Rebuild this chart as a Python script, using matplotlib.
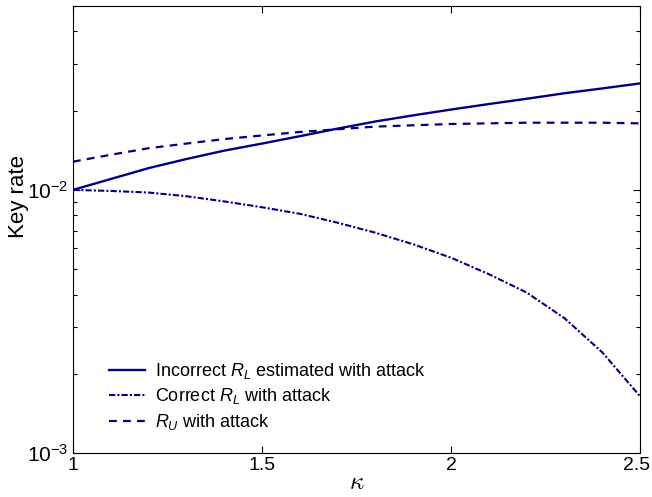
import numpy as np
import matplotlib
matplotlib.use('Agg')
import matplotlib.pyplot as plt
import matplotlib.transforms as mtransforms
from matplotlib.ticker import LogLocator, NullFormatter

plt.rcParams['font.family'] = ['Liberation Sans', 'DejaVu Sans']
plt.rcParams['mathtext.fontset'] = 'custom'
plt.rcParams['mathtext.rm'] = 'Liberation Sans'
plt.rcParams['mathtext.it'] = 'Liberation Sans:italic'

### kappa values
kappa = [1.0, 1.1, 1.2, 1.3, 1.4, 1.5, 1.6, 1.7, 1.8, 1.9,
         2.0, 2.1, 2.2, 2.3, 2.4, 2.5]
### incorrect R_L estimated with attack
rl_incorrect = [0.0100, 0.0110, 0.0121, 0.0131, 0.0141, 0.0150, 0.0160, 0.0171,
                0.0182, 0.0192, 0.0202, 0.0212, 0.0222, 0.0233, 0.0243, 0.0254]
### correct R_L with attack
rl_correct = [0.01000, 0.00991, 0.00977, 0.00946, 0.00904, 0.00859, 0.00811, 0.00750,
              0.00687, 0.00621, 0.00552, 0.00478, 0.00407, 0.00325, 0.00241, 0.00164]
### R_U with attack
ru = [0.0128, 0.0136, 0.0144, 0.0150, 0.0156, 0.0161, 0.0166, 0.0170,
      0.0174, 0.0176, 0.0178, 0.0179, 0.0180, 0.0180, 0.0180, 0.0179]

xticks = [1, 1.5, 2, 2.5]
xticklabels = ['1', '1.5', '2', '2.5']

navy = '#000080'

fig = plt.figure(figsize=(6.52, 4.97), dpi=100)
ax = fig.add_axes([0.112, 0.0885, 0.870, 0.8995])

ax.plot(kappa, rl_incorrect, color=navy, lw=1.7, ls='-',
        label=r'Incorrect $R_L$ estimated with attack')
ax.plot(kappa, rl_correct, color=navy, lw=1.5, ls=(0, (3.0, 1.0, 1.0, 1.0)),
        label=r'Correct $R_L$ with attack')
ax.plot(kappa, ru, color=navy, lw=1.6, ls=(0, (3.5, 2.8)),
        label=r'$R_U$ with attack')

ax.set_yscale('log')
ax.set_xlim(1, 2.5)
ax.set_ylim(1e-3, 5e-2)
ax.set_xticks(xticks)
ax.set_xticklabels(xticklabels)
ax.yaxis.set_major_locator(LogLocator(base=10, numticks=10))
ax.yaxis.set_minor_locator(LogLocator(base=10, subs=np.arange(2, 10), numticks=10))
ax.yaxis.set_minor_formatter(NullFormatter())

ax.tick_params(which='both', direction='in', top=True, right=True, labelsize=14)
ax.tick_params(which='major', length=5, width=0.8)
ax.tick_params(which='minor', length=3, width=0.8)
ax.tick_params(axis='x', pad=3)
ax.tick_params(axis='y', labelsize=15)

### nudge the last x label so it stays inside the figure
shift = mtransforms.ScaledTranslation(-4 / 100, 0, fig.dpi_scale_trans)
last = ax.get_xticklabels()[-1]
last.set_transform(last.get_transform() + shift)

ax.set_xlabel(r'$\kappa$', fontsize=18, math_fontfamily='cm', labelpad=-3)
ax.set_ylabel('Key rate', fontsize=16)
ax.yaxis.set_label_coords(-0.077, 0.573)

ax.legend(loc='lower left', bbox_to_anchor=(0.035, 0.011), frameon=False,
          fontsize=13, handlelength=2.0, labelspacing=0.3, handletextpad=0.55)

fig.savefig('out.png', dpi=100)
